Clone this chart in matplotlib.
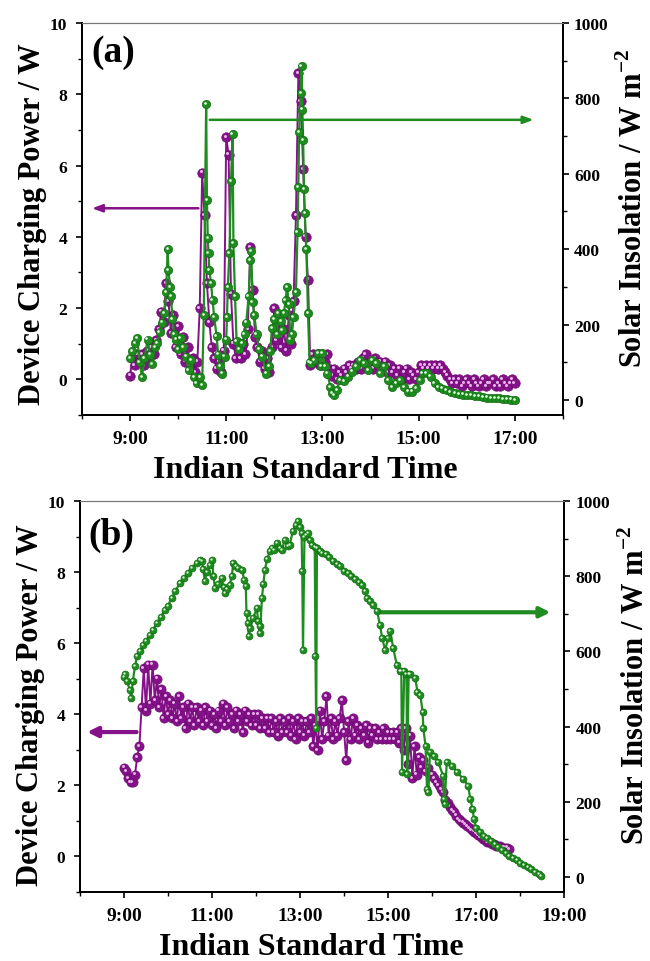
import numpy as np
import matplotlib
matplotlib.use("Agg")
import matplotlib.pyplot as plt
from matplotlib.ticker import MultipleLocator, FuncFormatter
from matplotlib.transforms import offset_copy

plt.rcParams["font.family"] = ["Liberation Serif", "DejaVu Serif"]
plt.rcParams["font.weight"] = "bold"
plt.rcParams["mathtext.fontset"] = "custom"
plt.rcParams["mathtext.rm"] = "Liberation Serif:bold"
plt.rcParams["mathtext.bf"] = "Liberation Serif:bold"

PURPLE = "#86128a"
PURPLE_EDGE = "#6a0a6e"
PURPLE_HI = "#eab4ec"
GREEN = "#1f8c1f"
GREEN_EDGE = "#146e14"
GREEN_HI = "#e4fbe0"

# ---- panel (a): device power, sampled every 3 min from 9:00 ----
power_a = [
    0.1, 0.6, 0.4, 0.7, 0.5, 0.7, 0.4, 0.8, 0.6, 0.9, 0.7, 1.1, 1.4, 1.9, 1.6, 2.7,
    2.2, 1.3, 1.8, 0.9, 1.5, 0.7, 1.2, 0.5, 0.9, 0.3, 0.6, 0.2, 0.5, 2.0, 5.8, 4.6,
    2.7, 1.6, 0.9, 0.6, 0.3, 0.5, 0.2, 0.8, 6.8, 6.3, 2.4, 1.0, 0.6, 0.9, 0.6, 1.0,
    0.7, 1.4, 3.7, 2.5, 1.2, 0.9, 0.5, 0.8, 0.3, 0.6, 0.2, 0.9, 2.0, 1.1, 1.6, 0.9,
    1.4, 0.8, 1.8, 1.0, 2.2, 4.6, 8.6, 7.8, 5.9, 4.0, 2.8, 0.4, 0.7, 0.5, 0.7, 0.4,
    0.6, 0.5, 0.7, 0.3, 0.1, 0.3, 0.0, 0.2, 0.1, 0.3, 0.2, 0.4, 0.3, 0.4, 0.3, 0.5,
    0.3, 0.6, 0.7, 0.4, 0.5, 0.3, 0.6, 0.4, 0.5, 0.3, 0.5, 0.2, 0.4, 0.2, 0.3, 0.1,
    0.3, 0.0, 0.2, 0.3, 0.0, 0.2, 0.1, 0.0, 0.2, 0.4, 0.3, 0.4, 0.3, 0.4, 0.3, 0.4,
    0.3, 0.4, 0.3, 0.2, 0.1, 0.0, -0.1, 0.0, -0.1, 0.0, -0.2, -0.1, 0.0, -0.1, -0.2,
    0.0, -0.1, -0.2, -0.1, 0.0, -0.2, -0.1, -0.1, 0.0, -0.2, -0.1, -0.2, 0.0, -0.1,
    -0.2, -0.1, 0.0, -0.1,
]

# ---- panel (a): solar insolation ----
sun_a_time = [
    "9:00", "9:03", "9:06", "9:09", "9:12", "9:15", "9:18", "9:22", "9:25", "9:28",
    "9:31", "9:34", "9:37", "9:40", "9:43", "9:45", "9:47", "9:48", "9:50", "9:51",
    "9:53", "9:55", "9:58", "10:00", "10:03", "10:06", "10:10", "10:13", "10:16", "10:20",
    "10:23", "10:27", "10:30", "10:32", "10:35", "10:36", "10:37", "10:38", "10:39", "10:41",
    "10:43", "10:45", "10:48", "10:50", "10:52", "10:55", "10:58", "11:00", "11:01", "11:02",
    "11:04", "11:06", "11:08", "11:09", "11:11", "11:13", "11:16", "11:20", "11:23", "11:25",
    "11:28", "11:30", "11:31", "11:33", "11:35", "11:38", "11:41", "11:45", "11:50", "11:53",
    "11:55", "11:57", "12:00", "12:03", "12:05", "12:08", "12:10", "12:12", "12:14", "12:16",
    "12:18", "12:20", "12:22", "12:24", "12:27", "12:29", "12:30", "12:31", "12:33", "12:34",
    "12:35", "12:36", "12:37", "12:38", "12:40", "12:42", "12:44", "12:46", "12:50", "12:55",
    "12:58", "13:00", "13:03", "13:06", "13:10", "13:12", "13:15", "13:18", "13:22", "13:27",
    "13:32", "13:37", "13:42", "13:47", "13:52", "13:57", "14:02", "14:07", "14:12", "14:17",
    "14:22", "14:27", "14:32", "14:37", "14:42", "14:47", "14:52", "14:57", "15:02", "15:05",
    "15:10", "15:15", "15:20", "15:25", "15:30", "15:35", "15:40", "15:45", "15:50", "15:55",
    "16:00", "16:05", "16:10", "16:15", "16:20", "16:25", "16:30", "16:35", "16:40", "16:45",
    "16:50", "16:55", "17:00",
]
sun_a = [
    110, 130, 150, 165, 100, 60, 110, 160, 120, 95,
    140, 150, 180, 205, 230, 285, 400, 345, 300, 275,
    215, 175, 160, 135, 165, 140, 115, 80, 105, 60,
    45, 60, 40, 225, 785, 530, 430, 390, 345, 310,
    265, 220, 170, 120, 90, 70, 115, 160, 220, 300,
    390, 580, 705, 415, 275, 155, 135, 150, 175, 205,
    275, 370, 395, 260, 225, 175, 135, 115, 70, 90,
    130, 190, 215, 175, 230, 210, 185, 230, 265, 300,
    255, 160, 175, 220, 285, 445, 565, 710, 815, 885,
    770, 690, 560, 495, 400, 230, 100, 98, 106, 124,
    90, 124, 90, 70, 35, 18, 13, 27, 53, 49,
    62, 75, 89, 106, 98, 80, 106, 98, 71, 89,
    53, 35, 44, 53, 35, 22, 22, 31, 53, 71,
    71, 62, 44, 35, 30, 25, 20, 18, 15, 14,
    13, 12, 9, 10, 8, 6, 5, 5, 4, 3,
    2, 1, 0,
]

# ---- panel (b): device power, sampled every 3 min from 9:00 ----
power_b = [
    2.5, 2.4, 2.2, 2.1, 2.1, 2.3, 2.8, 3.1, 4.2, 5.3, 4.1, 5.4, 4.3, 5.4, 4.4, 5.0,
    4.2, 4.7, 3.9, 4.5, 4.0, 4.4, 3.9, 4.3, 3.8, 4.5, 3.9, 4.2, 3.6, 4.3, 3.8, 4.2,
    3.7, 4.2, 3.8, 4.1, 3.7, 4.2, 3.8, 4.1, 3.7, 4.0, 3.6, 4.1, 3.8, 4.3, 3.7, 4.2,
    3.8, 4.0, 3.6, 4.1, 3.8, 4.0, 3.5, 4.1, 3.8, 4.0, 3.7, 4.0, 3.7, 4.0, 3.6, 3.9,
    3.6, 3.9, 3.5, 3.9, 3.5, 3.8, 3.4, 3.9, 3.5, 3.8, 3.5, 3.9, 3.4, 3.8, 3.3, 3.9,
    3.5, 3.8, 3.4, 3.8, 3.5, 3.9, 3.1, 3.7, 3.0, 4.1, 3.3, 3.8, 4.5, 3.4, 3.9, 3.3,
    3.8, 3.4, 3.9, 4.4, 3.5, 2.7, 3.8, 3.3, 3.9, 3.4, 3.7, 3.3, 3.6, 3.4, 3.7, 3.2,
    3.6, 3.4, 3.6, 3.3, 3.5, 3.3, 3.6, 3.3, 3.5, 3.3, 3.5, 3.3, 3.5, 3.2, 3.6, 3.0,
    3.6, 2.6, 3.4, 2.2, 3.1, 2.3, 2.8, 2.5, 2.7, 2.4, 2.5, 2.3, 2.3, 2.2, 2.1, 2.0,
    1.9, 1.8, 1.6, 1.5, 1.4, 1.3, 1.25, 1.15, 1.05, 1.0, 0.95, 0.9, 0.85, 0.8, 0.75,
    0.7, 0.65, 0.6, 0.55, 0.5, 0.45, 0.4, 0.4, 0.35, 0.35, 0.3, 0.3, 0.3, 0.25, 0.25,
    0.25, 0.2,
]

# ---- panel (b): solar insolation ----
sun_b_time = [
    "9:00", "9:01", "9:04", "9:08", "9:10", "9:12", "9:15", "9:18", "9:22", "9:26",
    "9:30", "9:35", "9:40", "9:45", "9:50", "9:56", "10:00", "10:05", "10:10", "10:16",
    "10:22", "10:27", "10:33", "10:39", "10:43", "10:46", "10:48", "10:50", "10:53",
    "10:57", "11:00", "11:02", "11:04", "11:08", "11:13", "11:16", "11:18", "11:21",
    "11:24", "11:27", "11:29", "11:32", "11:36", "11:41", "11:44", "11:46", "11:47",
    "11:49", "11:50", "11:52", "11:56", "12:01", "12:03", "12:05", "12:06", "12:08",
    "12:10", "12:12", "12:15", "12:19", "12:22", "12:25", "12:29", "12:32", "12:35",
    "12:39", "12:43", "12:46", "12:50", "12:54", "12:57", "13:00", "13:02", "13:03",
    "13:04", "13:06", "13:08", "13:11", "13:14", "13:16", "13:20", "13:21", "13:22",
    "13:23", "13:27", "13:30", "13:35", "13:40", "13:45", "13:50", "13:55", "14:00",
    "14:05", "14:10", "14:15", "14:20", "14:25", "14:28", "14:31", "14:35", "14:40",
    "14:45", "14:49", "14:52", "14:56", "15:00", "15:03", "15:07", "15:12", "15:16",
    "15:18", "15:19", "15:22", "15:25", "15:26", "15:28", "15:30", "15:37", "15:40",
    "15:44", "15:47", "15:48", "15:51", "15:53", "15:55", "15:57", "16:02", "16:08",
    "16:15", "16:16", "16:17", "16:20", "16:27", "16:34", "16:42", "16:49", "16:52",
    "16:55", "16:57", "17:00", "17:05", "17:10", "17:15", "17:20", "17:25", "17:30",
    "17:35", "17:40", "17:45", "17:50", "17:55", "18:00", "18:05", "18:10", "18:15",
    "18:20", "18:25", "18:29",
]
sun_b = [
    533, 541, 520, 498, 476, 520, 560, 589, 600, 616,
    628, 643, 658, 675, 692, 709, 722, 741, 760, 781,
    795, 808, 822, 835, 843, 840, 820, 787, 810,
    830, 843, 800, 768, 780, 795, 770, 755, 765,
    776, 800, 835, 828, 821, 816, 789, 773, 701,
    675, 640, 661, 688, 715, 680, 650, 667, 741,
    780, 816, 845, 867, 875, 870, 888, 875, 869,
    896, 880, 883, 920, 935, 947, 930, 915, 813,
    603, 905, 910, 915, 895, 883, 878, 589, 395,
    875, 868, 861, 858, 852, 840, 832, 828, 815,
    808, 800, 792, 785, 776, 760, 741, 735, 723,
    707, 669, 635, 603, 635, 653, 608, 563, 547,
    547, 280, 547, 540, 275, 541, 541, 528, 493,
    483, 440, 395, 349, 235, 227, 333, 323, 307,
    269, 208, 195, 307, 296, 280, 261, 243, 208,
    181, 155, 130, 120, 110, 103, 96, 89, 80,
    71, 63, 56, 50, 44, 38, 32, 26, 20,
    13, 7, 2,
]


def to_hours(stamps):
    out = []
    for s in stamps:
        h, m = s.split(":")
        out.append(int(h) + int(m) / 60)
    return np.array(out)


def step_hours(values, start=9.0, step_min=3):
    return start + np.arange(len(values)) * step_min / 60


def hour_label(x, pos):
    return f"{int(round(x))}:00"


def style_axes(ax, ax2, x_max, x_major):
    ax.set_xlim(8, x_max)
    ax.set_ylim(-1, 10)
    ax2.set_ylim(-40, 1000)
    ax.set_xticks(x_major)
    ax.xaxis.set_minor_locator(MultipleLocator(1))
    ax.xaxis.set_major_formatter(FuncFormatter(hour_label))
    ax.yaxis.set_major_locator(MultipleLocator(2))
    ax.yaxis.set_minor_locator(MultipleLocator(1))
    ax2.yaxis.set_major_locator(MultipleLocator(200))
    ax2.yaxis.set_minor_locator(MultipleLocator(100))
    for a in (ax, ax2):
        a.tick_params(which="major", direction="out", length=4.5, width=1.2,
                      labelsize=12.6)
        a.tick_params(which="minor", direction="out", length=3, width=1.0)
        for side in ("left", "right", "bottom"):
            a.spines[side].set_linewidth(1.3)
            a.spines[side].set_color("black")
        a.spines["top"].set_linewidth(0.8)
        a.spines["top"].set_color("#777777")
    ax.tick_params(axis="x", which="major", labelsize=14, pad=6)
    ax.tick_params(axis="y", which="major", pad=6)
    ax2.tick_params(axis="y", which="major", pad=3.5)
    ax.set_xlabel("Indian Standard Time", fontsize=23, fontweight="bold")
    ax.set_ylabel("Device Charging Power / W", fontsize=22, fontweight="bold")
    ax2.set_ylabel(r"Solar Insolation / W m$^{-2}$", fontsize=22,
                   fontweight="bold", rotation=90)


def draw_series(ax, x, y, color, edge, hi, size, lw, z):
    # line, shaded ball markers and a small off-centre highlight
    ax.plot(x, y, "-", color=color, lw=lw, zorder=z)
    ax.plot(x, y, "o", ls="none", ms=size, mfc=color, mec=edge, mew=0.5,
            zorder=z + 0.1)
    shift = offset_copy(ax.transData, fig=ax.figure, x=-size * 0.14,
                        y=size * 0.14, units="points")
    ax.plot(x, y, "o", ls="none", ms=size * 0.32, mfc=hi, mec="none",
            zorder=z + 0.2, transform=shift)


fig = plt.figure(figsize=(6.5, 9.62), dpi=100)

# panel (a)
ax_a = fig.add_axes([0.126, 0.5676, 0.740, 0.4075])
ax_a2 = ax_a.twinx()
draw_series(ax_a, step_hours(power_a), power_a, PURPLE, PURPLE_EDGE, PURPLE_HI,
            6.8, 1.4, 2)
draw_series(ax_a2, to_hours(sun_a_time), sun_a, GREEN, GREEN_EDGE, GREEN_HI,
            6.0, 1.6, 3)
style_axes(ax_a, ax_a2, 18, [9, 11, 13, 15, 17])
ax_a.annotate("", xy=(8.15, 4.8), xytext=(10.48, 4.8),
              arrowprops=dict(arrowstyle="-|>,head_length=0.6,head_width=0.22",
                              color=PURPLE, lw=1.8))
ax_a2.annotate("", xy=(17.45, 743), xytext=(10.6, 743),
               arrowprops=dict(arrowstyle="-|>,head_length=0.6,head_width=0.22",
                               color=GREEN, lw=1.8))
ax_a.text(0.02, 0.926, "(a)", transform=ax_a.transAxes, fontsize=27,
          fontweight="bold", va="center", ha="left")
ax_a.xaxis.set_label_coords(0.465, -0.102)
ax_a.yaxis.set_label_coords(-0.073, 0.49)
ax_a2.yaxis.set_label_coords(1.116, 0.53)

# panel (b)
ax_b = fig.add_axes([0.123, 0.0717, 0.745, 0.4065])
ax_b2 = ax_b.twinx()
draw_series(ax_b, step_hours(power_b), power_b, PURPLE, PURPLE_EDGE, PURPLE_HI,
            6.6, 1.4, 2)
draw_series(ax_b2, to_hours(sun_b_time), sun_b, GREEN, GREEN_EDGE, GREEN_HI,
            5.0, 1.6, 3)
style_axes(ax_b, ax_b2, 19, [9, 11, 13, 15, 17, 19])
ax_b.annotate("", xy=(8.1, 3.5), xytext=(9.35, 3.5),
              arrowprops=dict(arrowstyle="-|>,head_length=0.6,head_width=0.3",
                              color=PURPLE, lw=3))
ax_b2.annotate("", xy=(18.75, 704), xytext=(14.7, 704),
               arrowprops=dict(arrowstyle="-|>,head_length=0.6,head_width=0.3",
                               color=GREEN, lw=3))
ax_b.text(0.017, 0.915, "(b)", transform=ax_b.transAxes, fontsize=27,
          fontweight="bold", va="center", ha="left")
ax_b.xaxis.set_label_coords(0.478, -0.102)
ax_b.yaxis.set_label_coords(-0.072, 0.48)
ax_b2.yaxis.set_label_coords(1.116, 0.53)

fig.savefig("out.png", dpi=100)
